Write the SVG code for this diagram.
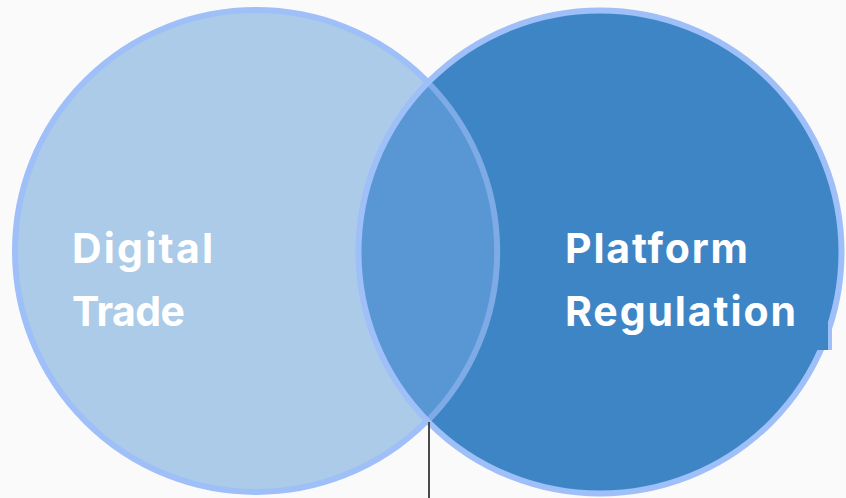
<svg xmlns="http://www.w3.org/2000/svg" width="846" height="498" viewBox="0 0 846 498">
<style>
.lbl{font-family:Inter,Lato,"Liberation Sans",sans-serif;font-weight:700;font-size:41px;fill:#ffffff;font-variant-ligatures:none;}
.ring{fill:none;stroke:#9ebff8;stroke-width:6;}
</style>
<rect width="846" height="498" fill="#fafafa"/>
<g id="digital-trade">
<circle cx="256" cy="251" r="241" fill="#abcbe8"/>
<circle class="ring" cx="256" cy="251" r="241"/>
</g>
<g id="platform-regulation">
<circle cx="600" cy="252" r="241.5" fill="#3e85c6"/>
</g>
<g id="overlap">
<path d="M428,82.5 A241,241 0 0 0 428,420.5 A241,241 0 0 0 428,82.5 Z" fill="#5897d3"/>
<path d="M428,420.5 A241,241 0 0 0 428,82.5" fill="none" stroke="#7eabe6" stroke-width="6"/>
</g>
<g id="rings">
<circle class="ring" cx="600" cy="252" r="241.5"/>
<rect x="812" y="322" width="16" height="28" fill="#3e85c6"/>
<rect x="828" y="330" width="4" height="20" fill="#9ebff8"/>
</g>
<g id="connectors">
<line x1="429" y1="422" x2="429" y2="498" stroke="#4a4a4a" stroke-width="2"/>
</g>
<g id="labels">
<text class="lbl" x="72" y="263" textLength="141" lengthAdjust="spacing">Digital</text>
<text class="lbl" x="72" y="326" textLength="113" lengthAdjust="spacing">Trade</text>
<text class="lbl" x="565" y="263" textLength="183" lengthAdjust="spacing">Platform</text>
<text class="lbl" x="565" y="326" textLength="231" lengthAdjust="spacing">Regulation</text>
</g>
</svg>
